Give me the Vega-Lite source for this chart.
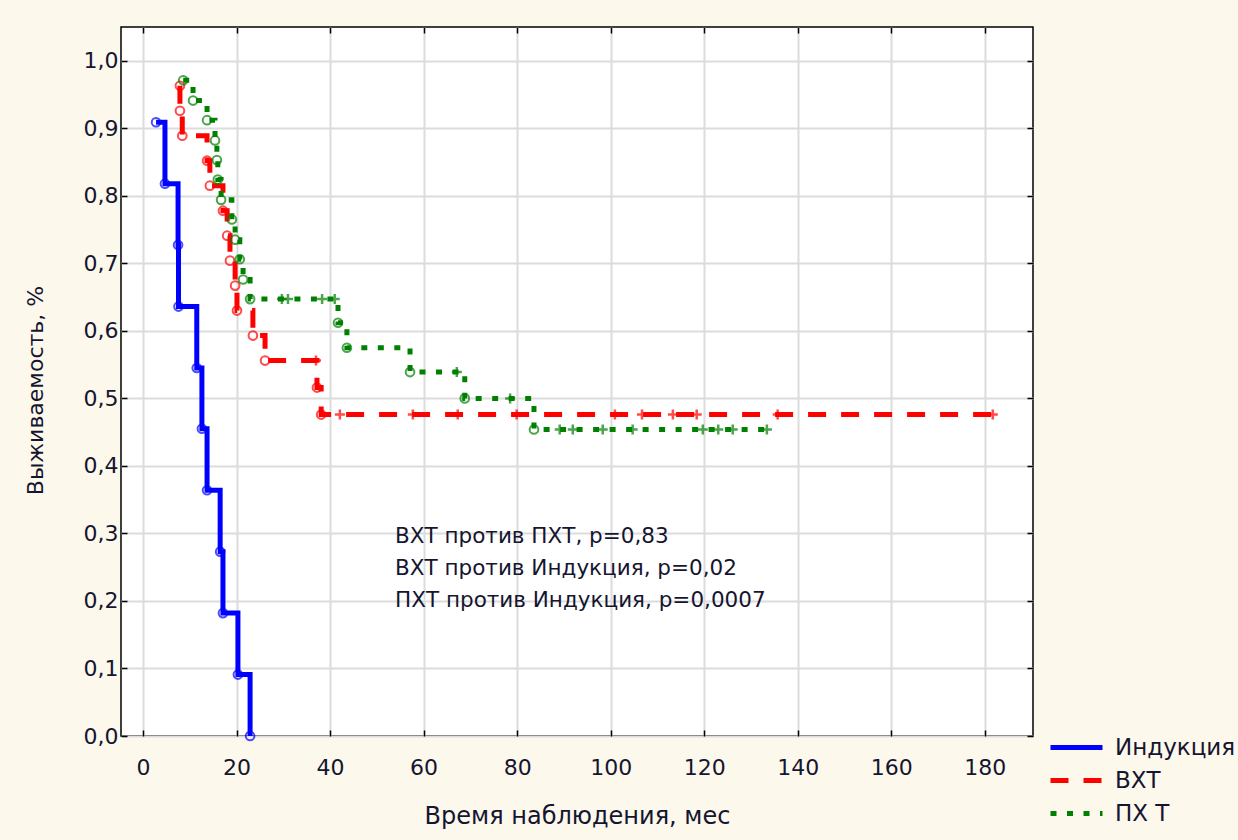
{
  "$schema": "https://vega.github.io/schema/vega-lite/v6.json",
  "autosize": {"type": "none"},
  "width": 912,
  "height": 709,
  "padding": {"left": 121, "top": 27, "right": 205, "bottom": 104},
  "background": "#fdf8ec",
  "config": {
    "view": {"stroke": "#000000", "strokeWidth": 1.5, "fill": "#ffffff"},
    "font": "DejaVu Sans",
    "axis": {
      "labelFont": "DejaVu Sans",
      "labelFontSize": 22,
      "labelColor": "#151530",
      "titleFont": "DejaVu Sans",
      "titleFontWeight": "normal",
      "titleColor": "#151530",
      "gridColor": "#dcdcdc",
      "gridWidth": 2,
      "tickColor": "#000000",
      "tickSize": -6,
      "tickWidth": 1.5,
      "domain": false
    },
    "legend": {
      "labelFont": "DejaVu Sans",
      "labelFontSize": 23,
      "labelColor": "#151530"
    }
  },
  "datasets": {
    "km": [
      {"group": "Индукция", "t": 2.8, "s": 0.909, "kind": "event"},
      {"group": "Индукция", "t": 4.7, "s": 0.818, "kind": "event"},
      {"group": "Индукция", "t": 7.5, "s": 0.727, "kind": "event"},
      {"group": "Индукция", "t": 7.6, "s": 0.636, "kind": "event"},
      {"group": "Индукция", "t": 11.5, "s": 0.545, "kind": "event"},
      {"group": "Индукция", "t": 12.6, "s": 0.455, "kind": "event"},
      {"group": "Индукция", "t": 13.7, "s": 0.364, "kind": "event"},
      {"group": "Индукция", "t": 16.5, "s": 0.273, "kind": "event"},
      {"group": "Индукция", "t": 17.1, "s": 0.182, "kind": "event"},
      {"group": "Индукция", "t": 20.3, "s": 0.091, "kind": "event"},
      {"group": "Индукция", "t": 22.9, "s": 0.0, "kind": "event"},

      {"group": "ВХТ", "t": 7.9, "s": 0.963, "kind": "event"},
      {"group": "ВХТ", "t": 7.9, "s": 0.926, "kind": "event"},
      {"group": "ВХТ", "t": 8.4, "s": 0.889, "kind": "event"},
      {"group": "ВХТ", "t": 13.7, "s": 0.852, "kind": "event"},
      {"group": "ВХТ", "t": 14.3, "s": 0.815, "kind": "event"},
      {"group": "ВХТ", "t": 17.1, "s": 0.778, "kind": "event"},
      {"group": "ВХТ", "t": 18.0, "s": 0.741, "kind": "event"},
      {"group": "ВХТ", "t": 18.6, "s": 0.704, "kind": "event"},
      {"group": "ВХТ", "t": 19.7, "s": 0.667, "kind": "event"},
      {"group": "ВХТ", "t": 20.1, "s": 0.630, "kind": "event"},
      {"group": "ВХТ", "t": 23.5, "s": 0.593, "kind": "event"},
      {"group": "ВХТ", "t": 26.1, "s": 0.556, "kind": "event"},
      {"group": "ВХТ", "t": 37.0, "s": 0.556, "kind": "censored"},
      {"group": "ВХТ", "t": 37.2, "s": 0.516, "kind": "event"},
      {"group": "ВХТ", "t": 38.1, "s": 0.476, "kind": "event"},
      {"group": "ВХТ", "t": 42.1, "s": 0.476, "kind": "censored"},
      {"group": "ВХТ", "t": 57.7, "s": 0.476, "kind": "censored"},
      {"group": "ВХТ", "t": 67.3, "s": 0.476, "kind": "censored"},
      {"group": "ВХТ", "t": 79.9, "s": 0.476, "kind": "censored"},
      {"group": "ВХТ", "t": 100.9, "s": 0.476, "kind": "censored"},
      {"group": "ВХТ", "t": 106.7, "s": 0.476, "kind": "censored"},
      {"group": "ВХТ", "t": 113.3, "s": 0.476, "kind": "censored"},
      {"group": "ВХТ", "t": 118.4, "s": 0.476, "kind": "censored"},
      {"group": "ВХТ", "t": 135.7, "s": 0.476, "kind": "censored"},
      {"group": "ВХТ", "t": 181.7, "s": 0.476, "kind": "censored"},

      {"group": "ПХ Т", "t": 8.6, "s": 0.971, "kind": "event"},
      {"group": "ПХ Т", "t": 10.7, "s": 0.941, "kind": "event"},
      {"group": "ПХ Т", "t": 13.7, "s": 0.912, "kind": "event"},
      {"group": "ПХ Т", "t": 15.4, "s": 0.882, "kind": "event"},
      {"group": "ПХ Т", "t": 15.8, "s": 0.853, "kind": "event"},
      {"group": "ПХ Т", "t": 16.0, "s": 0.824, "kind": "event"},
      {"group": "ПХ Т", "t": 16.7, "s": 0.794, "kind": "event"},
      {"group": "ПХ Т", "t": 19.0, "s": 0.765, "kind": "event"},
      {"group": "ПХ Т", "t": 19.7, "s": 0.735, "kind": "event"},
      {"group": "ПХ Т", "t": 20.7, "s": 0.706, "kind": "event"},
      {"group": "ПХ Т", "t": 21.4, "s": 0.676, "kind": "event"},
      {"group": "ПХ Т", "t": 22.9, "s": 0.647, "kind": "event"},
      {"group": "ПХ Т", "t": 29.7, "s": 0.647, "kind": "censored"},
      {"group": "ПХ Т", "t": 31.0, "s": 0.647, "kind": "censored"},
      {"group": "ПХ Т", "t": 38.3, "s": 0.647, "kind": "censored"},
      {"group": "ПХ Т", "t": 41.0, "s": 0.647, "kind": "censored"},
      {"group": "ПХ Т", "t": 41.7, "s": 0.612, "kind": "event"},
      {"group": "ПХ Т", "t": 43.6, "s": 0.575, "kind": "event"},
      {"group": "ПХ Т", "t": 57.1, "s": 0.539, "kind": "event"},
      {"group": "ПХ Т", "t": 67.1, "s": 0.539, "kind": "censored"},
      {"group": "ПХ Т", "t": 68.8, "s": 0.500, "kind": "event"},
      {"group": "ПХ Т", "t": 78.5, "s": 0.500, "kind": "censored"},
      {"group": "ПХ Т", "t": 83.6, "s": 0.454, "kind": "event"},
      {"group": "ПХ Т", "t": 89.1, "s": 0.454, "kind": "censored"},
      {"group": "ПХ Т", "t": 91.9, "s": 0.454, "kind": "censored"},
      {"group": "ПХ Т", "t": 98.3, "s": 0.454, "kind": "censored"},
      {"group": "ПХ Т", "t": 104.7, "s": 0.454, "kind": "censored"},
      {"group": "ПХ Т", "t": 119.7, "s": 0.454, "kind": "censored"},
      {"group": "ПХ Т", "t": 123.0, "s": 0.454, "kind": "censored"},
      {"group": "ПХ Т", "t": 126.1, "s": 0.454, "kind": "censored"},
      {"group": "ПХ Т", "t": 133.4, "s": 0.454, "kind": "censored"}
    ],
    "notes": [
      {"t": 53.9, "s": 0.295, "label": "ВХТ против ПХТ, p=0,83"},
      {"t": 53.9, "s": 0.247, "label": "ВХТ против Индукция, p=0,02"},
      {"t": 53.9, "s": 0.200, "label": "ПХТ против Индукция, p=0,0007"}
    ]
  },
  "resolve": {"axis": {"x": "independent", "y": "independent"}},
  "layer": [
    {
      "data": {"name": "km"},
      "mark": {"type": "line", "interpolate": "step-after", "strokeWidth": 5},
      "encoding": {
        "x": {
          "field": "t", "type": "quantitative",
          "scale": {"domain": [-4.7, 190.3], "nice": false, "zero": false},
          "axis": {
            "values": [0, 20, 40, 60, 80, 100, 120, 140, 160, 180],
            "title": "Время наблюдения, мес",
            "titleFontSize": 24,
            "labelPadding": 27,
            "titleX": 456, "titleY": 80, "titleBaseline": "middle", "titleAlign": "center"
          }
        },
        "y": {
          "field": "s", "type": "quantitative",
          "scale": {"domain": [0, 1.05], "nice": false},
          "axis": {
            "values": [0, 0.1, 0.2, 0.3, 0.4, 0.5, 0.6, 0.7, 0.8, 0.9, 1.0],
            "labelExpr": "replace(format(datum.value, '.1f'), '.', ',')",
            "labelPadding": 9,
            "title": "Выживаемость, %",
            "titleFontSize": 22,
            "titleX": -86, "titleY": 363, "titleBaseline": "middle", "titleAlign": "center", "titleAngle": -90
          }
        },
        "color": {
          "field": "group", "type": "nominal",
          "scale": {"domain": ["Индукция", "ВХТ", "ПХ Т"], "range": ["#0000ff", "#ff0000", "#008000"]},
          "legend": {
            "title": null, "orient": "none", "legendX": 927, "legendY": 704,
            "symbolType": "stroke", "symbolSize": 2704, "symbolStrokeWidth": 5,
            "labelOffset": 10, "rowPadding": 0, "clipHeight": 33
          }
        },
        "strokeDash": {
          "field": "group", "type": "nominal",
          "scale": {"domain": ["Индукция", "ВХТ", "ПХ Т"], "range": [[1, 0], [18, 15], [6, 10.5]]},
          "legend": {
            "title": null, "orient": "none", "legendX": 927, "legendY": 704,
            "symbolType": "stroke", "symbolSize": 2704, "symbolStrokeWidth": 5,
            "labelOffset": 10, "rowPadding": 0, "clipHeight": 33
          }
        }
      }
    },
    {
      "data": {"name": "km"},
      "transform": [{"filter": "datum.kind == 'event'"}],
      "mark": {"type": "point", "shape": "circle", "filled": false, "size": 75, "strokeWidth": 2},
      "encoding": {
        "x": {"field": "t", "type": "quantitative",
          "axis": {"orient": "top", "values": [0, 20, 40, 60, 80, 100, 120, 140, 160, 180], "labels": false, "grid": false, "title": null}},
        "y": {"field": "s", "type": "quantitative",
          "axis": {"orient": "right", "values": [0, 0.1, 0.2, 0.3, 0.4, 0.5, 0.6, 0.7, 0.8, 0.9, 1.0], "labels": false, "grid": false, "title": null}},
        "stroke": {
          "field": "group", "type": "nominal",
          "scale": {"domain": ["Индукция", "ВХТ", "ПХ Т"], "range": ["#0000ff", "#ff0000", "#008000"]},
          "legend": null
        }
      }
    },
    {
      "data": {"name": "km"},
      "transform": [{"filter": "datum.kind == 'censored'"}],
      "mark": {"type": "point", "shape": "M-1,0H1M0,-1V1", "filled": false, "size": 100, "strokeWidth": 2.5},
      "encoding": {
        "x": {"field": "t", "type": "quantitative", "axis": null},
        "y": {"field": "s", "type": "quantitative", "axis": null},
        "stroke": {
          "field": "group", "type": "nominal",
          "scale": {"domain": ["Индукция", "ВХТ", "ПХ Т"], "range": ["#0000ff", "#ff0000", "#008000"]},
          "legend": null
        }
      }
    },
    {
      "data": {"name": "notes"},
      "mark": {"type": "text", "align": "left", "baseline": "middle", "font": "DejaVu Sans", "fontSize": 21.5, "color": "#151530"},
      "encoding": {
        "x": {"field": "t", "type": "quantitative", "axis": null},
        "y": {"field": "s", "type": "quantitative", "axis": null},
        "text": {"field": "label"}
      }
    }
  ]
}
